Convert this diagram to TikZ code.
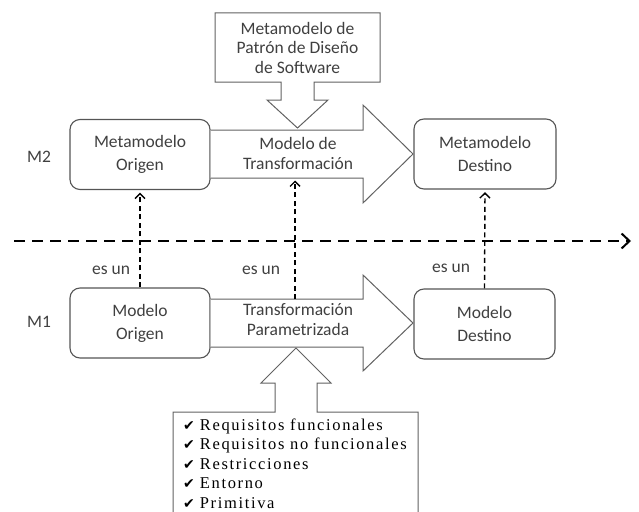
\documentclass[tikz,border=0pt]{standalone}
\usepackage{fontspec}
\setmainfont{Carlito}
\newfontfamily\reqfont[LetterSpace=10]{Liberation Serif}
\newfontfamily\symfont{DejaVu Sans}
\usetikzlibrary{arrows.meta}

\definecolor{boxline}{HTML}{555555}
\definecolor{arrline}{HTML}{626262}
\definecolor{txt}{HTML}{404040}

\tikzset{
  model/.style={draw=boxline, line width=1.1pt, rounded corners=10pt,
    minimum width=140pt, minimum height=70pt, align=center, inner sep=0pt,
    text=txt, font=\fontsize{17.5}{23}\selectfont},
  bigarrow/.style={draw=arrline, line width=1pt, fill=white, line join=miter},
  lbl/.style={text=txt, inner sep=0pt, align=center, font=\fontsize{17.5}{20}\selectfont},
  levelline/.style={line width=2.2pt, dash pattern=on 11pt off 7pt,
    -{Straight Barb[length=8pt,width=15pt,line width=2pt]}},
  inst/.style={line width=1.4pt, dash pattern=on 5pt off 3.5pt, shorten >=2.5pt,
    -{Straight Barb[length=5pt,width=10pt,line width=1.4pt]}},
  reqline/.style={anchor=base west, inner sep=0pt}
}

\begin{document}
\begin{tikzpicture}[x=1pt,y=-1pt]
\useasboundingbox (0,0) rectangle (639,511);
\clip (0,0) rectangle (639,511);

% level M2: metamodels
\node[model] (mo) at (140,154.5) {Metamodelo\\Origen};
\node[model, minimum width=142pt] (md) at (485,154) {Metamodelo\\Destino};

% level M1: models
\node[model] (o) at (140,323) {Modelo\\Origen};
\node[model, minimum width=141pt] (d) at (484.5,324) {Modelo\\Destino};

% transformation arrows
\draw[bigarrow] (mo.east |- 0,130) -- (363,130) -- (363,105) -- (413,154)
  -- (363,203) -- (363,178) -- (mo.east |- 0,178);
\draw[bigarrow] (o.east |- 0,299) -- (363,299) -- (363,275) -- (413,323)
  -- (363,371) -- (363,347) -- (o.east |- 0,347);

% design pattern metamodel feeding the transformation model
\draw[bigarrow] (215,13) -- (380,13) -- (380,82) -- (314,82) -- (314,100)
  -- (328,100) -- (297.5,128) -- (267,100) -- (281,100) -- (281,82)
  -- (215,82) -- cycle;
\node[lbl, font=\fontsize{17.5}{19.5}\selectfont] (pat) at (297.5,47.5)
  {Metamodelo de\\Patrón de Diseño\\de Software};

% parameters box feeding the parametrized transformation
\draw[bigarrow] (173,520) -- (173,412) -- (275,412) -- (275,383) -- (261,383)
  -- (296,348) -- (331,383) -- (317,383) -- (317,412) -- (418,412) -- (418,520);

\node[lbl] (mt) at (298,153) {Modelo de\\Transformación};
\node[lbl] (tp) at (298,320) {Transformación\\Parametrizada};

% level labels
\node[lbl] (m2) at (39,157) {M2};
\node[lbl] (m1) at (39,322) {M1};

% separation between levels
\coordinate (sepL) at (14,241);
\coordinate (sepR) at (631,241);
\draw[levelline] (sepL) -- (sepR);

% instance-of relations
\coordinate (lowshaft) at (295,299);
\coordinate (upshaft) at (295,178);
\draw[inst] (o.north) -- (mo.south);
\draw[inst] (lowshaft) -- (upshaft);
\draw[inst] (d.north) -- (md.south);

\node[lbl] (e1) at (111,270) {es un};
\node[lbl] (e2) at (261,270) {es un};
\node[lbl] (e3) at (451,268) {es un};

% parameter list
\foreach \t [count=\i] in {Requisitos funcionales, Requisitos no funcionales,
    Restricciones, Entorno, Primitiva}
  \node[reqline] (req\i) at (183,{430+19.5*(\i-1)})
    {\symfont\fontsize{14}{19.5}\selectfont ✔\hspace{5pt}\reqfont\fontsize{16.5}{19.5}\selectfont\t};
\end{tikzpicture}
\end{document}
